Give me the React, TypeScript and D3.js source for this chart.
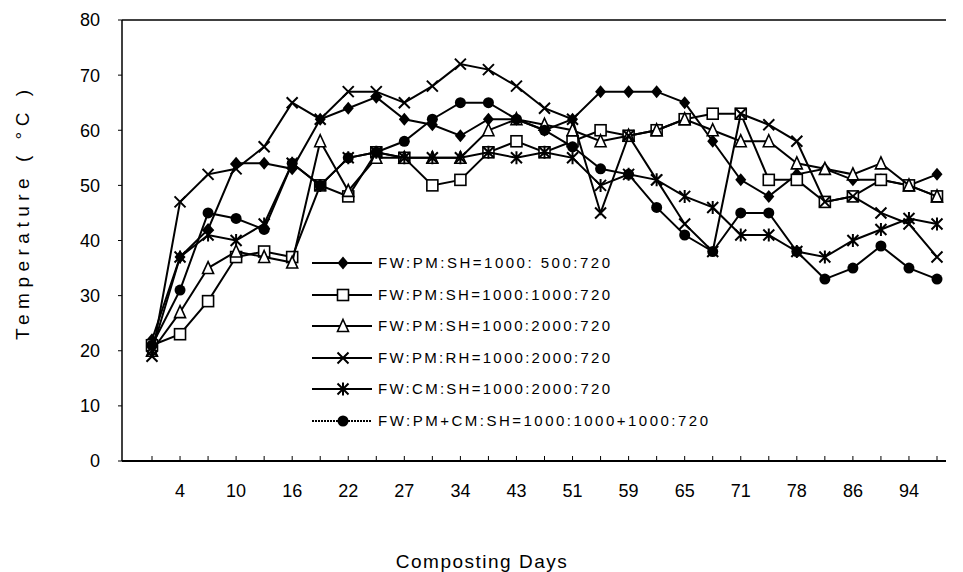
import React from "react";
import * as d3 from "d3";

// composting day categories (only every second one carries a label)
const days = ["1", "4", "7", "10", "13", "16", "19", "22", "25", "27", "30", "34", "38", "43", "47",
  "51", "55", "59", "62", "65", "68", "71", "75", "78", "82", "86", "90", "94", "98"];
const labeledDays = ["4", "10", "16", "22", "27", "34", "43", "51", "59", "65", "71", "78", "86", "94"];
const yTicks = [0, 10, 20, 30, 40, 50, 60, 70, 80];

// temperature readings (°C)
const pm500 = [22, 37, 42, 54, 54, 53, 62, 64, 66, 62, 61, 59, 62, 62, 60, 62, 67, 67, 67, 65, 58, 51, 48, 52, 53, 51, 51, 50, 52];
const pm1000 = [21, 23, 29, 37, 38, 37, 50, 48, 56, 55, 50, 51, 56, 58, 56, 58, 60, 59, 60, 62, 63, 63, 51, 51, 47, 48, 51, 50, 48];
const pm2000 = [20, 27, 35, 38, 37, 36, 58, 49, 55, 55, 55, 55, 60, 62, 61, 60, 58, 59, 60, 62, 60, 58, 58, 54, 53, 52, 54, 50, 48];
const rh2000 = [19, 47, 52, 53, 57, 65, 62, 67, 67, 65, 68, 72, 71, 68, 64, 62, 45, 59, 51, 43, 38, 63, 61, 58, 47, 48, 45, 43, 37];
const cm2000 = [20, 37, 41, 40, 43, 54, 50, 55, 56, 55, 55, 55, 56, 55, 56, 55, 50, 52, 51, 48, 46, 41, 41, 38, 37, 40, 42, 44, 43];
const pmcm = [21, 31, 45, 44, 42, 54, 50, 55, 56, 58, 62, 65, 65, 62, 60, 57, 53, 52, 46, 41, 38, 45, 45, 38, 33, 35, 39, 35, 33];

const seriesNames = [
  "FW:PM:SH=1000: 500:720",
  "FW:PM:SH=1000:1000:720",
  "FW:PM:SH=1000:2000:720",
  "FW:PM:RH=1000:2000:720",
  "FW:CM:SH=1000:2000:720",
  "FW:PM+CM:SH=1000:1000+1000:720",
];
const seriesValues = [pm500, pm1000, pm2000, rh2000, cm2000, pmcm];
const markerTypes = ["diamond", "square", "triangle", "x", "asterisk", "circle"];

const Marker = ({ type, x, y }: { type: string; x: number; y: number }) => {
  const s = 5.5;
  if (type === "diamond") {
    return <path d={`M${x},${y - s - 1}L${x + s},${y}L${x},${y + s + 1}L${x - s},${y}Z`} fill="#000" />;
  }
  if (type === "square") {
    return <rect x={x - s} y={y - s} width={s * 2} height={s * 2} fill="#fff" stroke="#000" strokeWidth={1.6} />;
  }
  if (type === "triangle") {
    return <path d={`M${x},${y - s - 1}L${x + s},${y + s}L${x - s},${y + s}Z`} fill="#fff" stroke="#000" strokeWidth={1.6} />;
  }
  if (type === "x") {
    return <path d={`M${x - s},${y - s}L${x + s},${y + s}M${x + s},${y - s}L${x - s},${y + s}`} stroke="#000" strokeWidth={2} />;
  }
  if (type === "asterisk") {
    return <path d={`M${x - s},${y - s}L${x + s},${y + s}M${x + s},${y - s}L${x - s},${y + s}M${x},${y - s - 1}L${x},${y + s + 1}`} stroke="#000" strokeWidth={2} />;
  }
  return <circle cx={x} cy={y} r={s} fill="#000" />;
};

const App = () => {
  const width = 963;
  const height = 572;
  const left = 122;
  const right = 946;
  const top = 20;
  const bottom = 461;

  const xScale = d3.scalePoint<string>().domain(days).range([152, 937]);
  const yScale = d3.scaleLinear().domain([0, 80]).range([bottom, top]);

  const line = d3
    .line<number>()
    .x((d, i) => xScale(days[i]) as number)
    .y((d) => yScale(d));

  const font = "Arial, 'Liberation Sans', sans-serif";
  const legendRows = [263, 295, 326, 358, 389, 421];

  return (
    <svg width={width} height={height} style={{ position: "absolute", left: 0, top: 0 }}>
      <rect width={width} height={height} fill="#fff" />

      {/* frame */}
      <line x1={left} x2={right} y1={top} y2={top} stroke="#000" strokeWidth={1.5} />
      <line x1={left} x2={left} y1={top} y2={bottom} stroke="#000" strokeWidth={1.5} />
      <line x1={left} x2={right} y1={bottom} y2={bottom} stroke="#000" strokeWidth={2} />

      {/* y axis */}
      {yTicks.map((t) => (
        <g key={t}>
          <line x1={left - 4} x2={left} y1={yScale(t)} y2={yScale(t)} stroke="#000" />
          <text x={left - 22} y={yScale(t)} dy="0.36em" textAnchor="end" fontSize={18} fontFamily={font}>
            {t}
          </text>
        </g>
      ))}

      {/* x axis */}
      {days.map((d) => (
        <g key={d}>
          <line x1={xScale(d)} x2={xScale(d)} y1={bottom - 5} y2={bottom} stroke="#000" />
          {labeledDays.includes(d) && (
            <text x={xScale(d)} y={bottom + 36} textAnchor="middle" fontSize={18} fontFamily={font}>
              {d}
            </text>
          )}
        </g>
      ))}

      <text x={482} y={568} textAnchor="middle" fontSize={19} fontFamily={font} letterSpacing={1.5}>
        Composting Days
      </text>
      <text
        transform={`translate(29,${215}) rotate(-90)`}
        textAnchor="middle"
        fontSize={19}
        fontFamily={font}
        textLength={250}
        lengthAdjust="spacing"
      >
        Temperature ( °C )
      </text>

      {/* series */}
      {seriesValues.map((vals, k) => (
        <g key={k}>
          <path d={line(vals) || ""} fill="none" stroke="#000" strokeWidth={2} />
          {vals.map((v, i) => (
            <Marker key={i} type={markerTypes[k]} x={xScale(days[i]) as number} y={yScale(v)} />
          ))}
        </g>
      ))}

      {/* legend */}
      {seriesNames.map((name, k) => (
        <g key={name}>
          <line
            x1={312}
            x2={372}
            y1={legendRows[k]}
            y2={legendRows[k]}
            stroke="#000"
            strokeWidth={2}
            strokeDasharray={k === 5 ? "2,1" : undefined}
          />
          <Marker type={markerTypes[k]} x={343} y={legendRows[k]} />
          <text
            x={378}
            y={legendRows[k]}
            dy="0.36em"
            fontSize={15}
            fontFamily={font}
            textLength={k === 5 ? 330 : 232}
            lengthAdjust="spacing"
          >
            {name}
          </text>
        </g>
      ))}
    </svg>
  );
};

export default App;
